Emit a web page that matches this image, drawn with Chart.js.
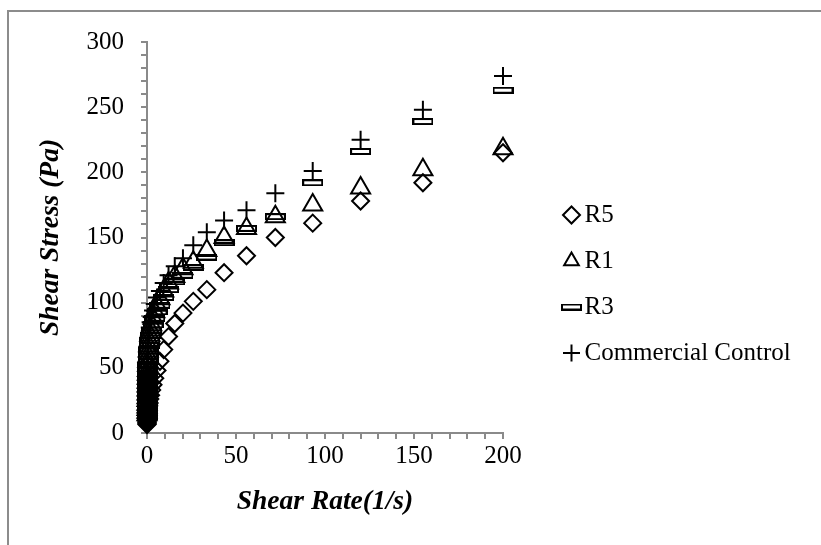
<!DOCTYPE html>
<html><head><meta charset="utf-8">
<script src="https://cdn.jsdelivr.net/npm/chart.js@4.4.1/dist/chart.umd.min.js"></script>
<style>
html,body{margin:0;padding:0;background:#fff;}
#wrap{position:relative;width:821px;height:545px;overflow:hidden;background:#fff;}
#frame{position:absolute;left:7px;top:10px;width:900px;height:700px;border:2px solid #8c8c8c;box-sizing:border-box;}
canvas{position:absolute;left:0;top:0;}
</style></head><body>
<div id="wrap"><div id="frame"></div><canvas id="c" width="821" height="545"></canvas></div>
<script>
// Shear rate (1/s)
const shearRate = [200, 155, 120, 93.1, 72.1, 55.9, 43.3, 33.6, 26.0, 20.2, 15.6, 12.1, 9.38, 7.27, 5.63, 4.36, 3.38, 2.62, 2.03, 1.57, 1.22, 0.944, 0.732, 0.567, 0.439, 0.34, 0.264, 0.204, 0.158, 0.123, 0.095, 0.074, 0.057, 0.044, 0.034, 0.026, 0.02, 0.016, 0.012, 0.01];
// Shear stress (Pa)
const r5 = [215, 192, 178, 161, 150, 136, 123, 110, 101, 92, 84, 74, 64, 55, 48, 42, 37, 33, 29, 26, 23, 21, 19, 17.5, 16, 15, 14, 13, 12, 11.5, 11, 10.5, 10, 9.5, 9, 8.5, 8, 7.5, 7, 6.5];
const r1 = [218, 202, 188, 175, 166, 157, 150, 140, 131, 126, 120, 115, 109, 103, 98, 93, 88, 83, 79, 75, 71, 67, 63, 59, 55, 52, 48, 45, 42, 39, 36, 33, 30, 27, 25, 22, 20, 18, 16, 14];
const r3 = [263, 239, 216, 192, 166, 157, 146, 135, 127, 121, 116, 110, 104, 98, 93, 88, 83, 79, 75, 71, 67, 63, 59, 55, 52, 48, 45, 42, 39, 36, 33, 30, 28, 25, 23, 21, 19, 17, 15, 13];
const commercial = [274, 248, 225, 201, 184, 171, 163, 154, 144, 134, 128, 121, 115, 109, 104, 99, 94, 89, 85, 81, 77, 73, 69, 65, 61, 57, 54, 51, 48, 45, 42, 39, 36, 33, 30, 27, 24, 21, 18, 15];
const seriesNames = ['R5', 'R1', 'R3', 'Commercial Control'];
const xTickLabels = [0, 50, 100, 150, 200];
const yTickLabels = [0, 50, 100, 150, 200, 250, 300];

const FONT = "'Liberation Serif', 'Times New Roman', serif";
const AXIS = '#8a8a8a';
const LEG_SIZE = 25, LEG_PAD = 21, LEG_BOX = 1;

// flat rectangle marker for R3
const barMark = document.createElement('canvas');
barMark.width = 21; barMark.height = 7;
(function(){ const g = barMark.getContext('2d'); g.strokeStyle = '#000'; g.lineWidth = 2; g.strokeRect(1, 1, 19, 5); })();

// legend width so that it starts at a fixed x
const mctx = document.createElement('canvas').getContext('2d');
mctx.font = 'normal ' + LEG_SIZE + 'px ' + FONT;
const maxText = Math.max.apply(null, seriesNames.map(t => mctx.measureText(t).width));
const legendW = LEG_PAD + LEG_BOX + LEG_SIZE / 2 + maxText + 10;
const legendLeft = 550;
const plotRight = 503;
const padRight = Math.max(0, 821 - legendLeft - legendW);

function pts(vals){ return shearRate.map((x, i) => ({x: x, y: vals[i]})); }

const base = {showLine: false, clip: false, borderColor: '#000', backgroundColor: 'rgba(0,0,0,0)', pointBorderWidth: 2, pointBorderColor: '#000', pointBackgroundColor: 'rgba(0,0,0,0)'};

const datasets = [
  Object.assign({}, base, {label: seriesNames[0], data: pts(r5), pointStyle: 'rectRot', pointRadius: 8.5}),
  Object.assign({}, base, {label: seriesNames[1], data: pts(r1), pointStyle: 'triangle', pointRadius: 11}),
  Object.assign({}, base, {label: seriesNames[2], data: pts(r3), pointStyle: barMark, pointRadius: 8}),
  Object.assign({}, base, {label: seriesNames[3], data: pts(commercial), pointStyle: 'cross', pointRadius: 9})
];

new Chart(document.getElementById('c'), {
  type: 'scatter',
  data: {datasets},
  options: {
    responsive: false, animation: false, devicePixelRatio: 1, events: [],
    layout: {padding: {left: 0, top: 42, right: padRight, bottom: 19}},
    plugins: {
      tooltip: {enabled: false},
      legend: {
        position: 'right', maxWidth: Math.ceil(legendW) + 4,
        labels: {usePointStyle: true, boxWidth: LEG_BOX, boxHeight: 12, padding: LEG_PAD, color: '#000', font: {family: FONT, size: LEG_SIZE}}
      }
    },
    scales: {
      x: {
        type: 'linear', position: 'bottom', min: 0, max: 200,
        ticks: {stepSize: 10, autoSkip: false, maxRotation: 0, padding: 2.5, color: '#000', font: {family: FONT, size: 25},
          callback: v => xTickLabels.includes(v) ? String(v) : ''},
        grid: {drawOnChartArea: false, tickLength: 6, color: AXIS, lineWidth: 2},
        border: {color: AXIS, width: 2},
        title: {display: true, text: 'Shear Rate(1/s)', color: '#000', padding: {top: 0, bottom: 8}, font: {family: FONT, size: 27.5, weight: 'bold', style: 'italic'}},
        afterFit: s => { s.height = 93; s.paddingLeft = 0; s.paddingRight = 0; }
      },
      y: {
        type: 'linear', position: 'left', min: 0, max: 300,
        ticks: {stepSize: 10, autoSkip: false, padding: 17, color: '#000', font: {family: FONT, size: 25},
          callback: v => yTickLabels.includes(v) ? String(v) : ''},
        grid: {drawOnChartArea: false, tickLength: 6, color: AXIS, lineWidth: 2},
        border: {color: AXIS, width: 2},
        title: {display: true, text: 'Shear Stress (Pa)', color: '#000', padding: {top: 34, bottom: 0}, font: {family: FONT, size: 27.5, weight: 'bold', style: 'italic'}},
        afterFit: s => { s.width = 147; s.paddingTop = 0; s.paddingBottom = 0; }
      },
      gap: {
        type: 'linear', position: 'right', display: true,
        ticks: {display: false}, grid: {display: false}, border: {display: false},
        afterFit: s => { s.width = legendLeft - plotRight; s.paddingTop = 0; s.paddingBottom = 0; }
      }
    }
  }
});
</script>
</body></html>
